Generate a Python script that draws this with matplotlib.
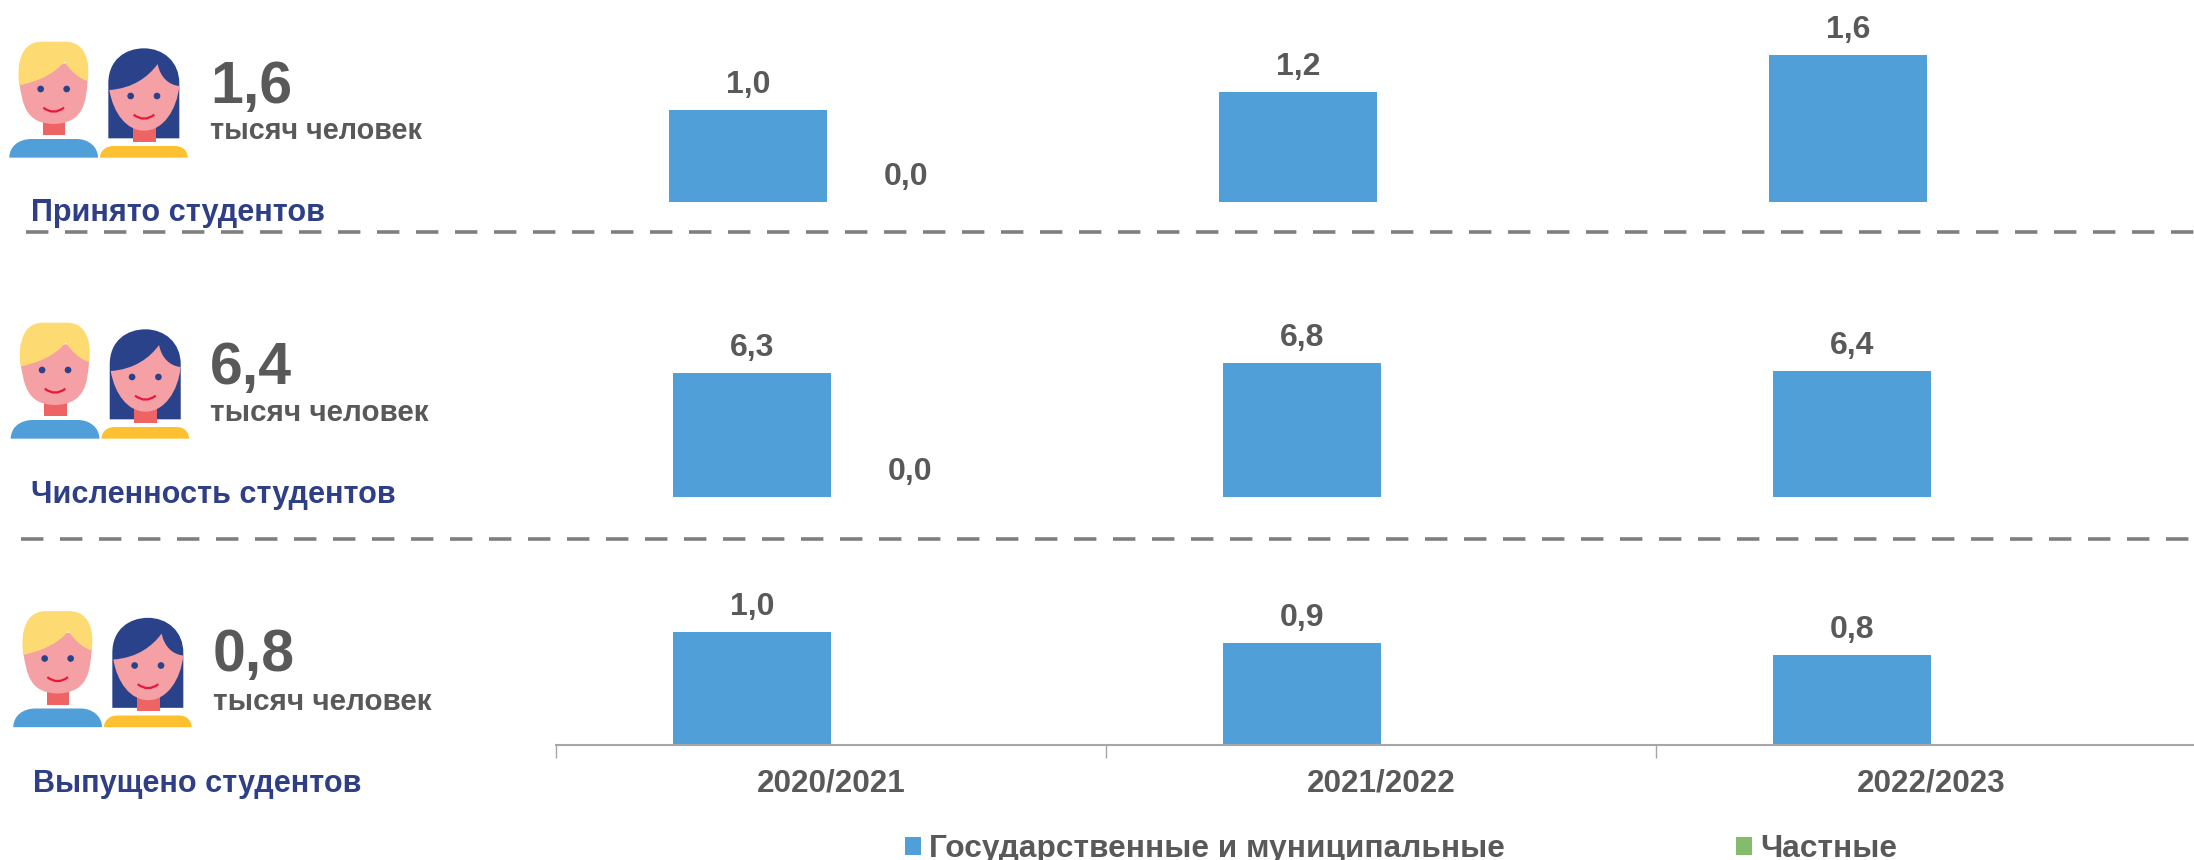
import numpy as np
import matplotlib
matplotlib.use("Agg")
import matplotlib.pyplot as plt
from matplotlib.path import Path
from matplotlib.patches import PathPatch, Circle, Rectangle

plt.rcParams["font.family"] = ["Liberation Sans", "DejaVu Sans"]
plt.rcParams["font.weight"] = "bold"

# Data
years = ["2020/2021", "2021/2022", "2022/2023"]
admitted_state = [1.0, 1.2, 1.6]
admitted_private = [0.0, np.nan, np.nan]
enrolled_state = [6.3, 6.8, 6.4]
enrolled_private = [0.0, np.nan, np.nan]
graduated_state = [1.0, 0.9, 0.8]
graduated_private = [np.nan, np.nan, np.nan]

row_titles = ["Принято студентов", "Численность студентов", "Выпущено студентов"]
row_totals = ["1,6", "6,4", "0,8"]
unit_label = "тысяч человек"
legend_labels = ["Государственные и муниципальные", "Частные"]

BLUE = "#519FD8"
GREEN = "#85BC6B"
TEXT = "#595959"
NAVY = "#2E3F87"
W, H = 2194, 860

fig = plt.figure(figsize=(W / 100, H / 100), dpi=100)


def make_axes(left, baseline, ymax, px_per_unit):
    # left and baseline in pixels from the top left corner
    height = ymax * px_per_unit
    ax = fig.add_axes([left / W, 1 - baseline / H, 1650 / W, height / H])
    ax.set_xlim(-0.5, 2.5)
    ax.set_ylim(0, ymax)
    ax.patch.set_alpha(0)
    for s in ax.spines.values():
        s.set_visible(False)
    ax.set_yticks([])
    ax.set_xticks([])
    return ax


def draw_bars(ax, state, private):
    x = np.arange(len(years))
    w = 158 / 550
    b1 = ax.bar(x - w / 2, state, w, color=BLUE, label=legend_labels[0])
    b2 = ax.bar(x + w / 2, private, w, color=GREEN, label=legend_labels[1])
    for xs, vals in ((x - w / 2, state), (x + w / 2, private)):
        for xi, v in zip(xs, vals):
            if np.isnan(v):
                continue
            ax.annotate(f"{v:.1f}".replace(".", ","), (xi, v), xytext=(0, 25),
                        textcoords="offset pixels", ha="center", va="center",
                        fontsize=23, color=TEXT, annotation_clip=False)
    return b1, b2


ax1 = make_axes(552, 202, 2.0, 91.7)
ax2 = make_axes(556, 497, 8.0, 19.7)
ax3 = make_axes(556, 745, 1.2, 113)
b1, b2 = draw_bars(ax1, admitted_state, admitted_private)
draw_bars(ax2, enrolled_state, enrolled_private)
draw_bars(ax3, graduated_state, graduated_private)

# Category axis only under the last row
ax3.spines["bottom"].set_visible(True)
ax3.spines["bottom"].set_color("#A6A6A6")
ax3.spines["bottom"].set_linewidth(1.5)
ax3.set_xticks([-0.5, 0.5, 1.5, 2.5])
ax3.set_xticklabels([])
ax3.tick_params(axis="x", which="major", length=9, width=1, color="#A6A6A6")
ax3.set_xticks(np.arange(3), minor=True)
ax3.set_xticklabels(years, minor=True, fontsize=22.6, color=TEXT)
ax3.tick_params(axis="x", which="minor", length=0, pad=17)

fig.legend([b1, b2], legend_labels, loc="lower left", bbox_to_anchor=(905 / W, 1 - 864 / H),
           ncol=2, frameon=False, fontsize=22.8, labelcolor=TEXT, borderpad=0, borderaxespad=0,
           handlelength=0.5, handleheight=0.5, handletextpad=0.25, columnspacing=7.31)

# Overlay in pixel coordinates for the people icons and side captions
ov = fig.add_axes([0, 0, 1, 1])
ov.set_xlim(0, W)
ov.set_ylim(H, 0)
ov.axis("off")
ov.patch.set_alpha(0)


def shape(ox, oy, start, segs, color):
    verts = [start]
    codes = [Path.MOVETO]
    for s in segs:
        if len(s) == 1:
            verts += s
            codes += [Path.LINETO]
        else:
            verts += s
            codes += [Path.CURVE4] * 3
    verts.append(start)
    codes.append(Path.CLOSEPOLY)
    pts = [(ox + a / 3, oy + b / 3) for a, b in verts]
    ov.add_patch(PathPatch(Path(pts, codes), fc=color, ec="none"))


def smile(ox, oy, x0, x1, y):
    xm = (x0 + x1) / 2
    pts = [(ox + x0 / 3, oy + y / 3), (ox + xm / 3, oy + (y + 24) / 3), (ox + x1 / 3, oy + y / 3)]
    ov.add_patch(PathPatch(Path(pts, [Path.MOVETO, Path.CURVE3, Path.CURVE3]),
                           fc="none", ec="#E8173C", lw=1.6))


def people(ox, oy):
    skin, neck, eye = "#F4A0A4", "#EE6464", "#2A4289"
    # boy
    ov.add_patch(Rectangle((ox + 128 / 3, oy + 300 / 3), 68 / 3, 45 / 3, fc=neck, ec="none"))
    shape(ox, oy, (58, 130), [[(263, 130)], [(263, 183)],
                              [(258, 240), (255, 310), (160, 312)],
                              [(75, 310), (68, 250), (58, 190)]], skin)
    shape(ox, oy, (58, 196), [[(52, 160), (50, 65), (125, 65)], [(195, 65)],
                              [(270, 65), (268, 150), (263, 183)],
                              [(235, 175), (210, 150), (193, 125)],
                              [(160, 165), (110, 185), (58, 196)]], "#FDDB72")
    for ex in (122, 200):
        ov.add_patch(Circle((ox + ex / 3, oy + 207 / 3), 10 / 3, fc=eye, ec="none"))
    smile(ox, oy, 130, 192, 263)
    shape(ox, oy, (28, 413), [[(28, 380), (55, 357), (95, 357)], [(230, 357)],
                              [(265, 357), (294, 380), (294, 413)]], BLUE)
    # girl
    shape(ox, oy, (325, 355), [[(325, 190)], [(325, 120), (375, 85), (432, 85)],
                               [(490, 85), (538, 125), (538, 190)], [(538, 355)]], eye)
    ov.add_patch(Rectangle((ox + 399 / 3, oy + 320 / 3), 68 / 3, 45 / 3, fc=neck, ec="none"))
    shape(ox, oy, (328, 210), [[(400, 205), (445, 170), (473, 132)],
                               [(480, 170), (505, 195), (538, 198)],
                               [(530, 270), (490, 332), (432, 332)],
                               [(380, 332), (340, 280), (328, 210)]], skin)
    for ex in (392, 471):
        ov.add_patch(Circle((ox + ex / 3, oy + 228 / 3), 10 / 3, fc=eye, ec="none"))
    smile(ox, oy, 401, 463, 284)
    shape(ox, oy, (300, 413), [[(300, 395), (315, 378), (340, 378)], [(525, 378)],
                               [(550, 378), (563, 395), (563, 413)]], "#FDC030")


icon_pos = [(0, 20), (1.4, 301), (4, 589.5)]
total_pos = [(210, 103), (210, 384), (213, 671)]
unit_pos = [(210, 139), (210, 421), (213, 710)]
title_pos = [(31, 221), (31, 503), (33, 792)]
unit_sizes = [20.7, 21.3, 21.3]

for i in range(3):
    people(*icon_pos[i])
    ov.text(*total_pos[i], row_totals[i], fontsize=42.5, color=TEXT, va="baseline")
    ov.text(*unit_pos[i], unit_label, fontsize=unit_sizes[i], color=TEXT, va="baseline")
    ov.text(*title_pos[i], row_titles[i], fontsize=22.1, color=NAVY, va="baseline")

# Dashed separators between rows
for x0, y in ((26, 232), (21, 539)):
    ov.plot([x0, W], [y, y], color="#7F7F7F", lw=2.6, dashes=(6.2, 4.6))

fig.savefig("out.png", dpi=100)
